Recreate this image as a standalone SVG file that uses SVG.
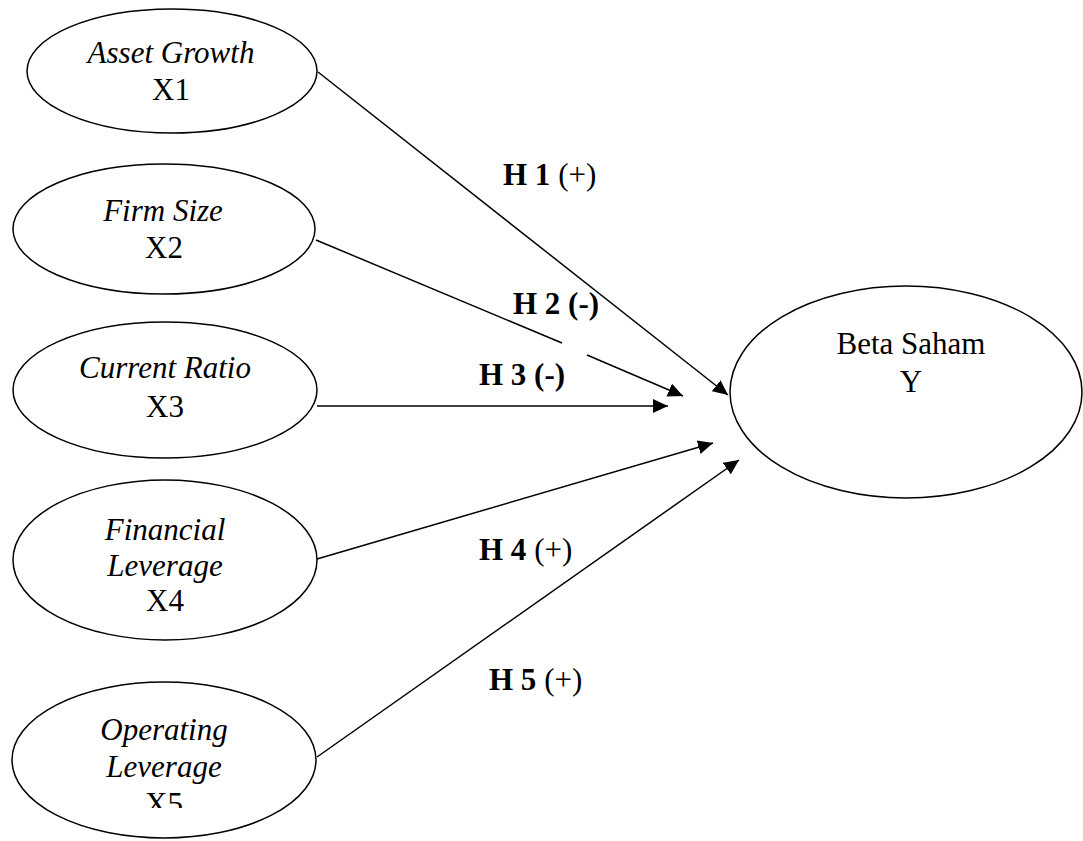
<svg xmlns="http://www.w3.org/2000/svg" width="1083" height="841" viewBox="0 0 1083 841">
<style>
  .node { fill: #ffffff; stroke: #000000; stroke-width: 1.5; }
  .t { font-family: "Liberation Serif", "Times New Roman", serif; font-size: 31px; fill: #000000; text-anchor: middle; }
  .i { font-style: italic; }
  .lbl { font-family: "Liberation Serif", "Times New Roman", serif; font-size: 31px; fill: #000000; }
  .b { font-weight: bold; }
  .edge { fill: none; stroke: #000000; stroke-width: 1.5; }
</style>
<defs>
  <marker id="arrow" markerUnits="userSpaceOnUse" markerWidth="16" markerHeight="14" refX="15" refY="7" orient="auto">
    <path d="M0,0 L15,7 L0,14 Z" fill="#000000"/>
  </marker>
  <clipPath id="clipX5">
    <rect x="0" y="0" width="400" height="808"/>
  </clipPath>
</defs>
<rect width="1083" height="841" fill="#ffffff"/>

<g id="connectors">
  <line class="edge" x1="318" y1="72" x2="728" y2="395" marker-end="url(#arrow)"/>
  <line class="edge" x1="316" y1="240" x2="562" y2="343"/>
  <line class="edge" x1="587" y1="355" x2="683" y2="396" marker-end="url(#arrow)"/>
  <line class="edge" x1="317" y1="406" x2="668" y2="406" marker-end="url(#arrow)"/>
  <line class="edge" x1="317" y1="559" x2="713" y2="443" marker-end="url(#arrow)"/>
  <line class="edge" x1="317" y1="757" x2="739" y2="460" marker-end="url(#arrow)"/>
</g>

<g id="labels">
  <text class="lbl" x="503" y="185"><tspan class="b">H 1</tspan> (+)</text>
  <text class="lbl b" x="513" y="314">H 2 (-)</text>
  <text class="lbl b" x="479" y="385">H 3 (-)</text>
  <text class="lbl" x="479" y="560"><tspan class="b">H 4</tspan> (+)</text>
  <text class="lbl" x="489" y="690"><tspan class="b">H 5</tspan> (+)</text>
</g>

<g id="node-x1">
  <ellipse class="node" cx="172" cy="71" rx="145" ry="62"/>
  <text class="t i" x="171" y="63">Asset Growth</text>
  <text class="t" x="171" y="100">X1</text>
</g>

<g id="node-x2">
  <ellipse class="node" cx="164" cy="229" rx="151" ry="65"/>
  <text class="t i" x="163" y="221">Firm Size</text>
  <text class="t" x="164" y="258">X2</text>
</g>

<g id="node-x3">
  <ellipse class="node" cx="165" cy="390" rx="152" ry="68"/>
  <text class="t i" x="165" y="378">Current Ratio</text>
  <text class="t" x="165" y="417">X3</text>
</g>

<g id="node-x4">
  <ellipse class="node" cx="165" cy="560" rx="152" ry="80"/>
  <text class="t i" x="165" y="540">Financial</text>
  <text class="t i" x="165" y="576">Leverage</text>
  <text class="t" x="165" y="611">X4</text>
</g>

<g id="node-x5">
  <ellipse class="node" cx="164" cy="760" rx="152" ry="78"/>
  <text class="t i" x="164" y="740">Operating</text>
  <text class="t i" x="164" y="777">Leverage</text>
  <text class="t" x="164" y="814" clip-path="url(#clipX5)">X5</text>
</g>

<g id="node-y">
  <ellipse class="node" cx="906" cy="392" rx="176" ry="106"/>
  <text class="t" x="911" y="354">Beta Saham</text>
  <text class="t" x="911" y="392">Y</text>
</g>
</svg>
